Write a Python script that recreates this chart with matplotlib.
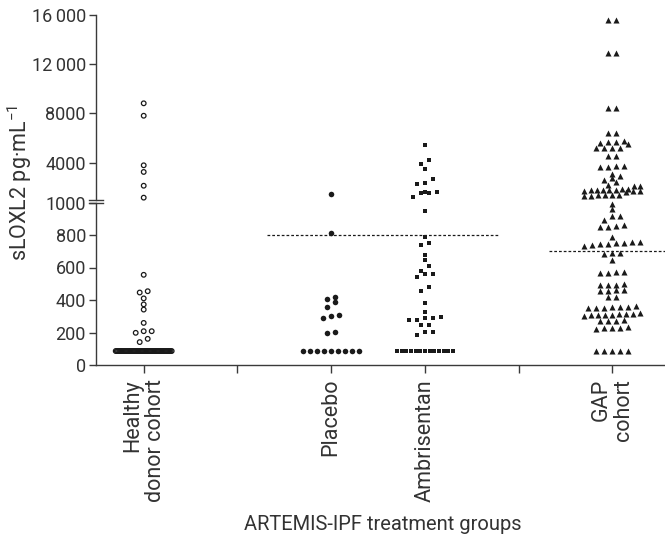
import numpy as np
import matplotlib
matplotlib.use("Agg")
import matplotlib.pyplot as plt

plt.rcParams["font.family"] = ["Roboto", "DejaVu Sans"]
plt.rcParams["mathtext.fontset"] = "custom"
plt.rcParams["mathtext.rm"] = "Roboto"
plt.rcParams["mathtext.default"] = "rm"

TXT = "#333333"
INK = "#1a1a1a"

# x categories (positions 2 and 5 are empty ticks)
tick_pos = [1, 2, 3, 4, 5, 6]
tick_labels = ["Healthy\ndonor cohort", "", "Placebo", "Ambrisentan", "", "GAP\ncohort"]

# sLOXL2 values, pg/mL
healthy = [8820, 7810, 3780, 3240, 2120, 1150,
           555, 454, 446, 410, 373, 341, 259, 208, 198, 208, 161, 141] + [86] * 50
placebo = [1450, 813, 418, 408, 387, 357, 310, 302, 292, 204, 194] + [86] * 9
ambrisentan = [5450, 4210, 3910, 3500, 2670, 2340, 2290, 1630, 1590, 1500, 1500, 1200,
               950, 785, 750, 738, 679, 648, 607, 579, 563, 558, 542, 483, 457,
               381, 328, 295, 292, 289, 280, 280, 246, 246, 206, 204, 185] + [86] * 13
gap = [15600, 15600, 12950, 12950, 8400, 8400, 6400, 6400,
       5750, 5700, 5650, 5600, 5500, 5150, 5150, 5150, 5150, 4500, 4500,
       3700, 3700, 3650, 3650, 3070, 2910, 2720, 2590, 2450, 2180, 2100, 2100,
       1850, 1820, 1800, 1780, 1760, 1750, 1740, 1720, 1700, 1680, 1650,
       1400, 1380, 1360, 1340, 1320, 1300,
       989, 958, 920, 915, 893, 860, 856, 852, 850, 785,
       760, 755, 750, 748, 745, 742, 740, 735, 688, 688, 685, 646,
       575, 570, 568, 565, 500, 495, 492, 490, 462, 460, 458, 455, 418, 418,
       365, 360, 358, 355, 352, 350, 348,
       318, 315, 313, 312, 310, 308, 306, 305, 302,
       275, 272, 270, 268, 235, 230, 228, 226, 224] + [86] * 5

artemis_median = 800
gap_median = 703

groups = [
    (healthy, 1, "o", dict(s=11, facecolors="none", edgecolors=INK, linewidths=0.9)),
    (placebo, 3, "o", dict(s=16, color=INK, linewidths=0)),
    (ambrisentan, 4, "s", dict(s=9, color=INK, linewidths=0)),
    (gap, 6, "^", dict(s=19, color=INK, linewidths=0)),
]

fig = plt.figure(figsize=(6.65, 5.41), dpi=100)
W, H = 665, 541
left = 95.7 / W
ax_lo = fig.add_axes([left, (H - 365) / H, 1 - left, (365 - 202.5) / H])
ax_hi = fig.add_axes([left, (H - 199.5) / H, 1 - left, (199.5 - 15) / H])

xlim = (0.488, 6.56)
for ax in (ax_lo, ax_hi):
    ax.set_xlim(*xlim)
    ax.patch.set_alpha(0)
    for side in ("top", "right"):
        ax.spines[side].set_visible(False)
    ax.spines["left"].set_color("#3a3a3a")
    ax.spines["left"].set_linewidth(1.0)
    ax.tick_params(axis="y", direction="out", length=5, width=1.0, color="#3a3a3a",
                   labelsize=13, labelcolor=TXT, pad=2)

ax_lo.set_ylim(0, 1000)
ax_hi.set_ylim(1000, 16000)
ax_lo.set_yticks([0, 200, 400, 600, 800, 1000])
ax_lo.set_yticklabels(["0", "200", "400", "600", "800", "1000"])
ax_hi.set_yticks([4000, 8000, 12000, 16000])
ax_hi.set_yticklabels(["4000", "8000", "12\u2009000", "16\u2009000"])

ax_hi.spines["bottom"].set_visible(False)
ax_hi.set_xticks([])
ax_lo.spines["bottom"].set_color("#3a3a3a")
ax_lo.spines["bottom"].set_linewidth(1.0)
ax_lo.set_xticks(tick_pos)
ax_lo.set_xticklabels(tick_labels, rotation=90, va="top", ha="center",
                      multialignment="right", linespacing=1.1)
ax_lo.tick_params(axis="x", direction="out", length=5.5, width=1.0, color="#3a3a3a",
                  labelsize=15.5, labelcolor=TXT, pad=4.5)

# axis break marks
d = 7 / (W - 95.7)
ax_hi.plot([-d, d], [0, 0], transform=ax_hi.transAxes, color="#3a3a3a", lw=1.0, clip_on=False)
ax_lo.plot([-d, d], [1, 1], transform=ax_lo.transAxes, color="#3a3a3a", lw=1.0, clip_on=False)


def to_px(v):
    ax = ax_hi if v > 1000 else ax_lo
    return ax.transData.transform((0, v))[1]


px_per_x = ax_lo.transData.transform((1, 0))[0] - ax_lo.transData.transform((0, 0))[0]


def swarm(values, step_px=8.0, bin_px=5.0, max_w=56.0):
    v = np.asarray(values, float)
    ypx = np.array([to_px(x) for x in v])
    order = np.argsort(ypx)
    offs = np.zeros(len(v))
    i = 0
    while i < len(order):
        j = i
        while j + 1 < len(order) and ypx[order[j + 1]] - ypx[order[i]] < bin_px:
            j += 1
        row = order[i:j + 1]
        n = len(row)
        if n > 1:
            s = min(step_px, max_w / (n - 1))
            offs[row] = (np.arange(n) - (n - 1) / 2) * s
        i = j + 1
    return offs / px_per_x


for vals, pos, marker, style in groups:
    vals = np.asarray(vals, float)
    xs = pos + swarm(vals)
    hi = vals > 1000
    ax_hi.scatter(xs[hi], vals[hi], marker=marker, clip_on=False, zorder=3, **style)
    ax_lo.scatter(xs[~hi], vals[~hi], marker=marker, clip_on=False, zorder=3, **style)

# medians
ax_lo.hlines(artemis_median, 3.55 - 1.24, 3.55 + 1.24, colors=INK, lw=0.9,
             linestyles=(0, (2.2, 1.6)), zorder=2)
ax_lo.hlines(gap_median, 5.32, 6.56, colors=INK, lw=0.9,
             linestyles=(0, (2.2, 1.6)), zorder=2)

fig.text(20 / W, 1 - 183 / H, "sLOXL2 pg\u00b7mL$^{-1}$", rotation=90, ha="center",
         va="center", fontsize=15.5, color=TXT)
fig.text(383 / W, 1 - 525 / H, "ARTEMIS-IPF treatment groups", ha="center",
         va="center", fontsize=14.5, color=TXT)

fig.savefig("out.png", dpi=100)
